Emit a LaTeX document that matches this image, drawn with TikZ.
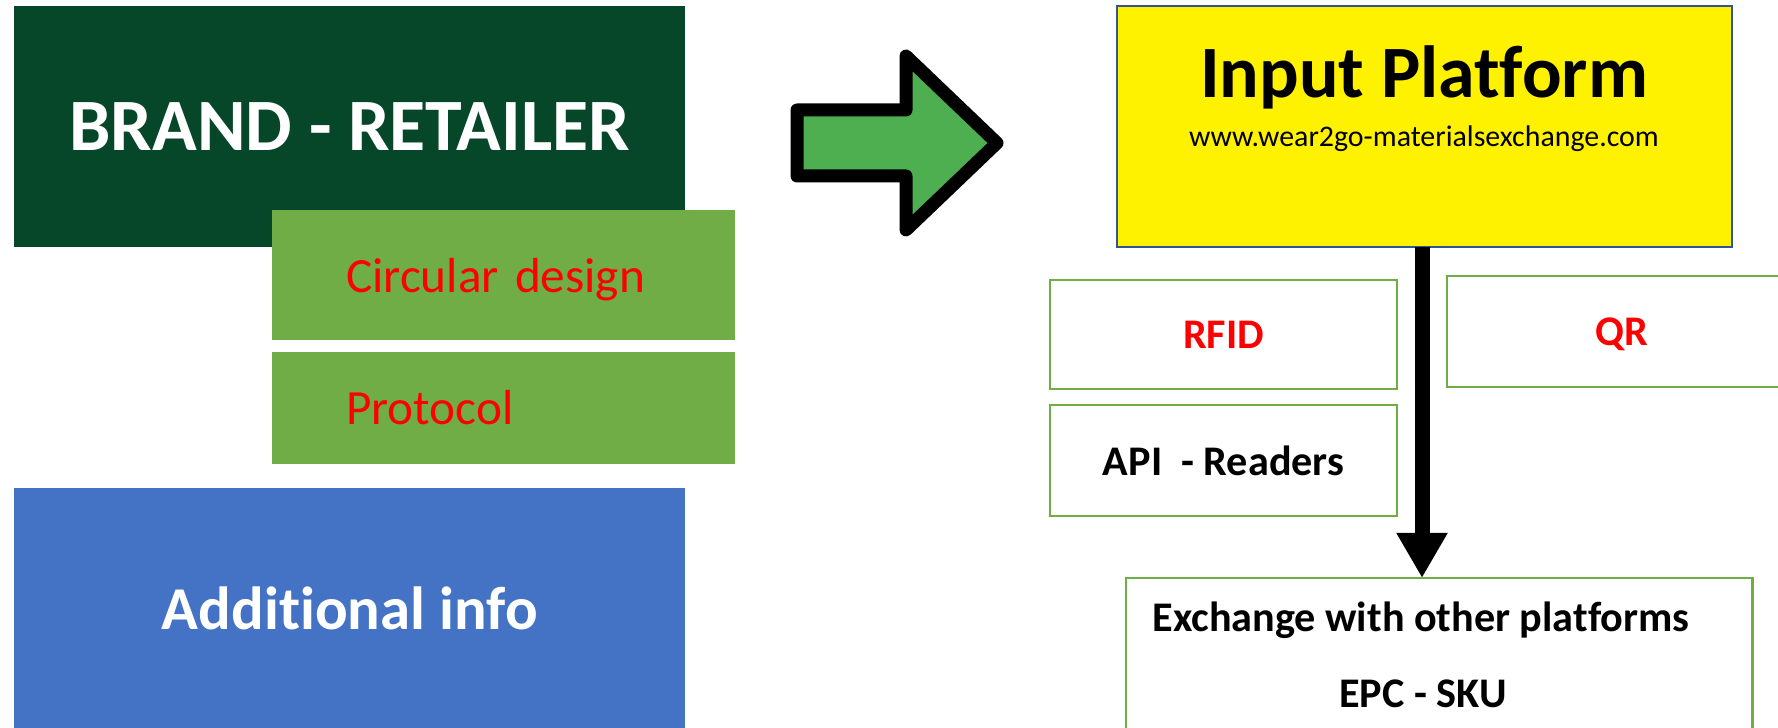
\documentclass[tikz,border=0pt]{standalone}
\usepackage{fontspec}
\setmainfont{Carlito}[Ligatures=NoCommon]
\usepackage{xcolor}
\usetikzlibrary{arrows.meta}
\definecolor{brandgreen}{RGB}{6,71,42}
\definecolor{leafgreen}{RGB}{112,173,71}
\definecolor{infoblue}{RGB}{68,114,196}
\definecolor{arrowgreen}{RGB}{77,175,80}
\definecolor{frameblue}{RGB}{47,85,151}
\tikzset{
  block/.style={anchor=north west, inner sep=0pt, outer sep=0pt},
  bigtext/.style={text=white, font=\fontsize{21}{25}\selectfont\bfseries},
  leafbox/.style={block, fill=leafgreen, text=red, minimum width=4.63cm, text width=3.15cm, inner xsep=0.74cm, align=left, font=\fontsize{14}{17}\selectfont},
  tagbox/.style={block, draw=leafgreen, line width=0.025cm, font=\fontsize{12}{14}\selectfont\bfseries},
}
\begin{document}
\begin{tikzpicture}[x=0.01cm,y=-0.01cm]
  \useasboundingbox (0,0) rectangle (1778,728);
  \node[block, bigtext, fill=brandgreen, minimum width=6.71cm, minimum height=2.41cm] (brand) at (14,6) {BRAND - RETAILER};
  \node[leafbox, minimum height=1.3cm, text depth=0pt] (circular) at (272,210) {Circular design};
  \node[leafbox, minimum height=1.12cm] (protocol) at (272,352) {Protocol};
  \node[block, bigtext, fill=infoblue, minimum width=6.71cm, minimum height=2.4cm, font=\fontsize{17.3}{21}\selectfont\bfseries] (info) at (14,488) {Additional info};
  \draw[fill=arrowgreen, line width=0.13cm, line join=round] (797,110) -- (906,110) -- (906,56) -- (997,143) -- (906,230) -- (906,176) -- (797,176) -- cycle;
  \node[block, fill=yellow, draw=frameblue, line width=0.02cm, minimum width=6.15cm, minimum height=2.41cm] (input) at (1117,6) {};
  \node[anchor=base, font=\fontsize{21}{25}\selectfont\bfseries] (title) at (1424,98) {Input Platform};
  \node[anchor=base, font=\fontsize{8.5}{10}\selectfont] (url) at (1424,146.7) {www.wear2go-materialsexchange.com};
  \node[tagbox, text=red, minimum width=3.47cm, minimum height=1.09cm] (rfid) at (1050,280) {RFID};
  \node[tagbox, minimum width=3.47cm, minimum height=1.11cm] (api) at (1050,405) {API\ \ - Readers};
  \node[tagbox, text=red, minimum width=3.5cm, minimum height=1.11cm, text width=3.3cm, text depth=0pt, align=center] (qr) at (1447,276) {QR};
  \node[tagbox, minimum width=6.26cm, minimum height=1.8cm] (exch) at (1126,578) {};
  \node[anchor=base, font=\fontsize{12}{14}\selectfont\bfseries] (exchtext) at (1421,631.7) {Exchange with other platforms};
  \node[anchor=base, font=\fontsize{12}{14}\selectfont\bfseries] (epc) at (1423,708) {EPC - SKU};
  \coordinate (down) at (1422,0);
  \draw[line width=0.15cm, -{Triangle[width=0.48cm, length=0.45cm]}] (input.south -| down) -- (down |- exch.north);
\end{tikzpicture}
\end{document}
